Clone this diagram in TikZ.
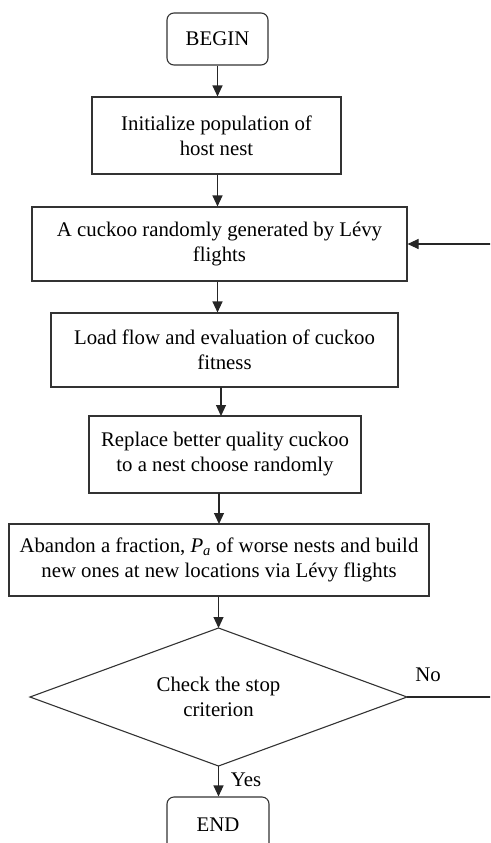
\documentclass[tikz,border=0pt]{standalone}
\usepackage{fontspec}
\setmainfont{Liberation Serif}
\usetikzlibrary{arrows.meta}

\tikzset{
  base/.style={draw=black!80, line width=1.1pt, fill=white, inner sep=0pt,
               align=center, font=\fontsize{20.8}{25}\selectfont},
  terminal/.style={base, rounded corners=7pt},
  procbox/.style={base},
  outline/.style={draw=black!80, line width=1.1pt, line join=miter},
  flow/.style={draw=black!85, line width=1.1pt,
               -{Triangle[length=11pt,width=10pt]}},
  plainline/.style={draw=black!85, line width=1.1pt},
  lbl/.style={font=\fontsize{20.8}{25}\selectfont, inner sep=0pt}
}

\begin{document}
\begin{tikzpicture}[x=1pt, y=-1pt]
  \clip (0,0) rectangle (490,843);

  % terminals and process steps
  \node[terminal, minimum width=101pt, minimum height=52pt] (begin) at (217.5,39) {BEGIN};
  \node[procbox, minimum width=249pt, minimum height=77pt] (init) at (216.5,135.5)
       {Initialize population of\\host nest};
  \node[procbox, minimum width=375pt, minimum height=74pt] (levy) at (219.5,244)
       {A cuckoo randomly generated by Lévy\\flights};
  \node[procbox, minimum width=347pt, minimum height=74pt] (load) at (224.5,350)
       {Load flow and evaluation of cuckoo\\fitness};
  \node[procbox, minimum width=272pt, minimum height=77pt] (repl) at (225,454.5)
       {Replace better quality cuckoo\\to a nest choose randomly};
  \node[procbox, minimum width=420pt, minimum height=72pt] (aban) at (219,560)
       {Abandon a fraction, \textit{P}\textsubscript{\textit{a}} of worse nests and build\\new ones at new locations via Lévy flights};

  % decision: the stop test, a flat diamond
  \coordinate (chkN) at (218.5,628);
  \coordinate (chkE) at (407,697);
  \coordinate (chkS) at (218.5,766);
  \coordinate (chkW) at (30,697);
  \draw[outline] (chkN) -- (chkE) -- (chkS) -- (chkW) -- cycle;
  \node[lbl, align=center] (check) at (218.5,697) {Check the stop\\criterion};

  \node[terminal, minimum width=102pt, minimum height=56pt] (end) at (218,825) {END};

  % main flow
  \draw[flow] (begin.south) -- (begin.south |- init.north);
  \draw[flow] (begin.south |- init.south) -- (begin.south |- levy.north);
  \draw[flow] (begin.south |- levy.south) -- (begin.south |- load.north);
  \draw[flow] (221,387) -- (221,416);
  \draw[flow] (219,493) -- (219,524);
  \draw[flow] (chkN |- aban.south) -- (chkN);
  \draw[flow] (chkS) -- (chkS |- end.north);

  % loop back when the criterion is not met
  \coordinate (loop) at (493,697);
  \draw[plainline] (chkE) -- (loop);
  \draw[flow] (loop) |- (levy.east);

  % branch labels
  \node[lbl] (no) at (428,675) {No};
  \node[lbl] (yes) at (246,780) {Yes};
\end{tikzpicture}
\end{document}
